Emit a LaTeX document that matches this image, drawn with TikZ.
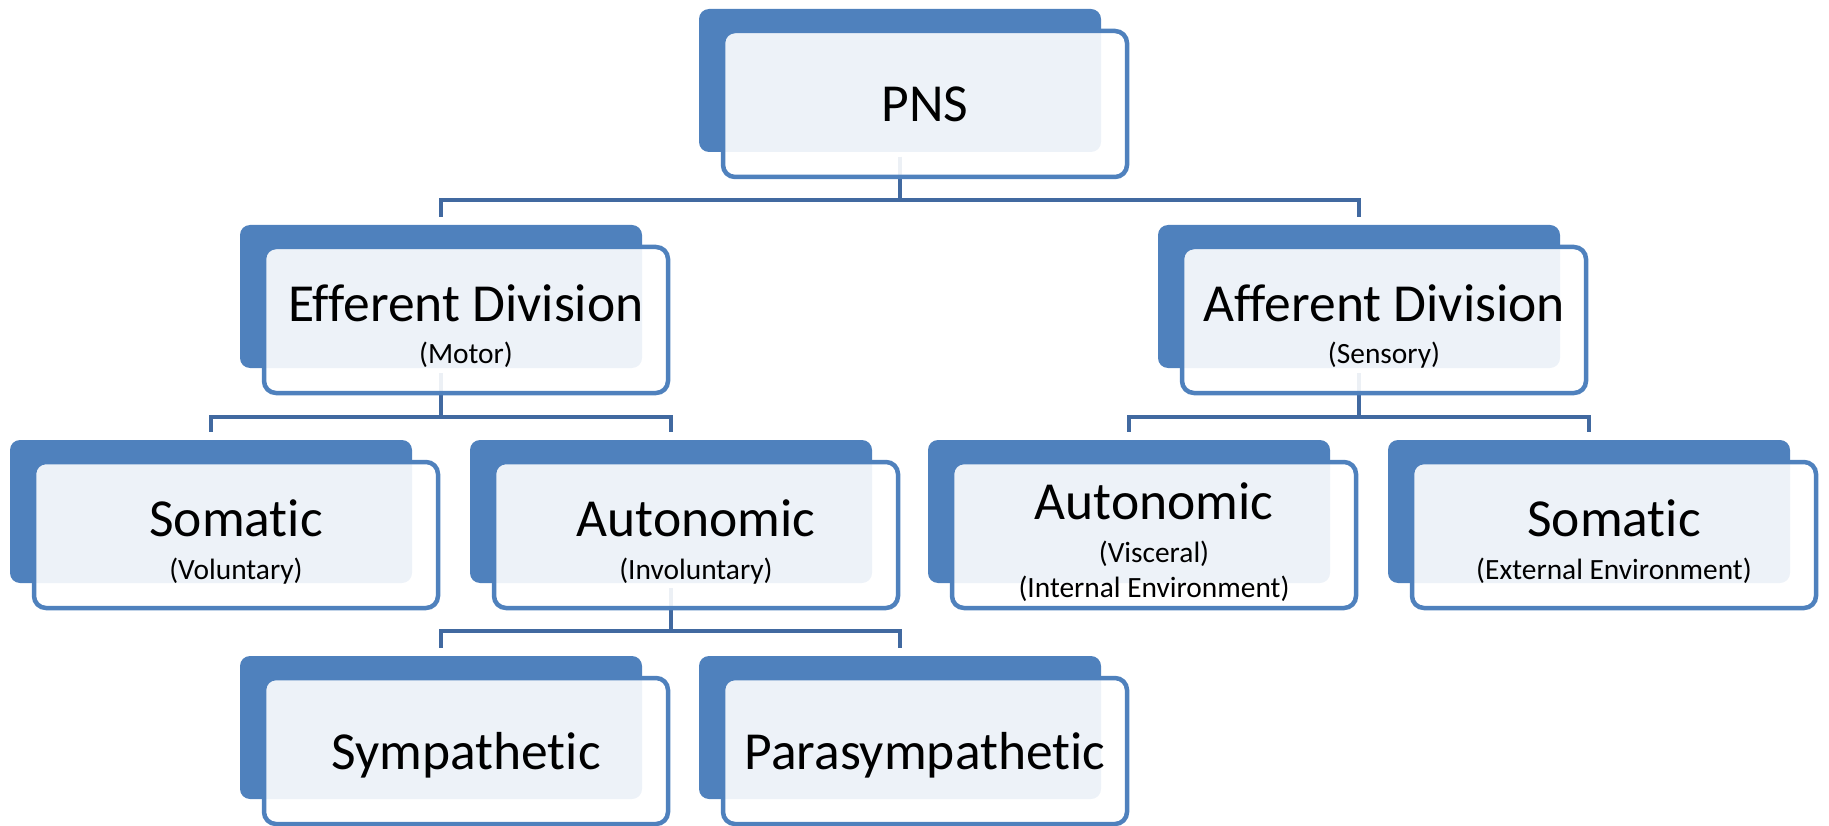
\documentclass[tikz,border=0pt]{standalone}
\usepackage{fontspec}
\setmainfont{Carlito}[Ligatures={NoCommon,NoContextual}]
\usetikzlibrary{calc}
\definecolor{accent}{HTML}{4F81BD}
\definecolor{connc}{HTML}{4169A0}
\tikzset{
  backbox/.style={draw=none, fill=accent, rounded corners=10pt, minimum width=402pt, minimum height=143pt, inner sep=0pt, outer sep=0pt, anchor=north west},
  frontbox/.style={draw=accent, line width=4.5pt, fill=white, fill opacity=0.9, rounded corners=12pt, minimum width=404pt, minimum height=146pt, inner sep=0pt, outer sep=0pt, anchor=north west},
  conn/.style={draw=connc, line width=4.5pt, shorten <=5pt, shorten >=8pt},
  maintxt/.style={anchor=base, inner sep=0pt, font=\fontsize{53.5}{60}\selectfont, text=black},
  subtxt/.style={anchor=base, inner sep=0pt, font=\fontsize{29.4}{32}\selectfont, text=black}
}
\begin{document}
\begin{tikzpicture}[x=1pt,y=-1pt]
\useasboundingbox (0,0) rectangle (1829,826);
% back boxes
\node[backbox] (pnsB)  at (699,9) {};
\node[backbox] (effB)  at (240,225) {};
\node[backbox] (affB)  at (1158,225) {};
\node[backbox] (somLB) at (10,440) {};
\node[backbox] (autLB) at (470,440) {};
\node[backbox] (autRB) at (928,440) {};
\node[backbox] (somRB) at (1388,440) {};
\node[backbox] (symB)  at (240,656) {};
\node[backbox] (parB)  at (699,656) {};
% connectors
\draw[conn] (pnsB.south) -- ++(0,48) -| (effB.north);
\draw[conn] (pnsB.south) -- ++(0,48) -| (affB.north);
\draw[conn] (effB.south) -- ++(0,49) -| (somLB.north);
\draw[conn] (effB.south) -- ++(0,49) -| (autLB.north);
\draw[conn] (affB.south) -- ++(0,49) -| (autRB.north);
\draw[conn] (affB.south) -- ++(0,49) -| (somRB.north);
\draw[conn] (autLB.south) -- ++(0,48) -| (symB.north);
\draw[conn] (autLB.south) -- ++(0,48) -| (parB.north);
% front boxes
\node[frontbox] (pns)  at (723,31) {};
\node[frontbox] (eff)  at (264,247) {};
\node[frontbox] (aff)  at (1182,247) {};
\node[frontbox] (somL) at (34,462) {};
\node[frontbox] (autL) at (494,462) {};
\node[frontbox] (autR) at (952,462) {};
\node[frontbox] (somR) at (1412,462) {};
\node[frontbox] (sym)  at (264,678) {};
\node[frontbox] (par)  at (723,678) {};
% texts
\node[maintxt] (pnsT) at ($(pns.center)+(0,18)$) {PNS};
\node[maintxt] (effT) at ($(eff.center)+(0,2)$) {Efferent Division};
\node[subtxt] (effS) at ($(eff.center)+(0,43)$) {(Motor)};
\node[maintxt] (affT) at ($(aff.center)+(0,2)$) {Afferent Division};
\node[subtxt] (affS) at ($(aff.center)+(0,43)$) {(Sensory)};
\node[maintxt] (somLT) at ($(somL.center)+(0,1)$) {Somatic};
\node[subtxt] (somLS) at ($(somL.center)+(0,44)$) {(Voluntary)};
\node[maintxt] (autLT) at ($(autL.center)+(0,1)$) {Autonomic};
\node[subtxt] (autLS) at ($(autL.center)+(0,44)$) {(Involuntary)};
\node[maintxt] (autRT) at ($(autR.center)+(0,-16)$) {Autonomic};
\node[subtxt] (autRS) at ($(autR.center)+(0,27)$) {(Visceral)};
\node[subtxt] (autRS2) at ($(autR.center)+(0,62)$) {(Internal Environment)};
\node[maintxt] (somRT) at ($(somR.center)+(0,1)$) {Somatic};
\node[subtxt] (somRS) at ($(somR.center)+(0,44)$) {(External Environment)};
\node[maintxt] (symT) at ($(sym.center)+(0,18)$) {Sympathetic};
\node[maintxt] (parT) at ($(par.center)+(0,18)$) {Parasympathetic};
\end{tikzpicture}
\end{document}
